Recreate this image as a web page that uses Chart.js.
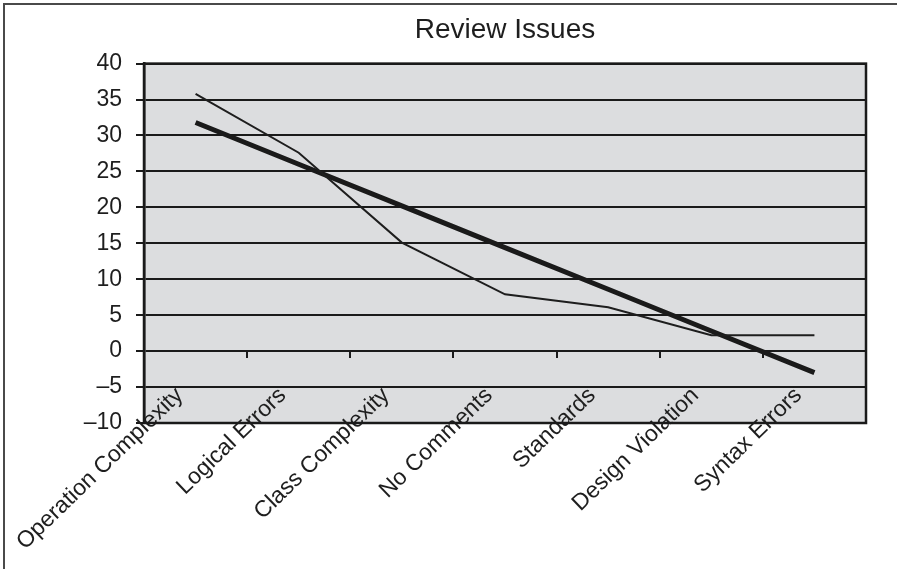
<!DOCTYPE html>
<html>
<head>
<meta charset="utf-8">
<script src="https://cdn.jsdelivr.net/npm/chart.js@4"></script>
<style>
  html, body { margin: 0; padding: 0; background: #fff; }
  #wrap { width: 897px; height: 569px; position: relative; }
</style>
</head>
<body>
<div id="wrap"><canvas id="reviewChart" width="897" height="569"></canvas></div>
<script>
const categories = ['Operation Complexity', 'Logical Errors', 'Class Complexity', 'No Comments', 'Standards', 'Design Violation', 'Syntax Errors'];
const issueCounts = [35.8, 27.6, 15.1, 7.9, 6.1, 2.2, 2.2];
const trendValues = [31.8, 26.0, 20.2, 14.4, 8.6, 2.8, -3.0];
const yTicks = [-10, -5, 0, 5, 10, 15, 20, 25, 30, 35, 40];

// grey plot background, plot frame and the outer picture frame
const framePlugin = {
  id: 'frame',
  beforeDraw(chart) {
    const { ctx, chartArea: a } = chart;
    ctx.save();
    ctx.fillStyle = '#fff';
    ctx.fillRect(0, 0, chart.width, chart.height);
    ctx.fillStyle = '#dcdddf';
    ctx.fillRect(a.left, a.top, a.right - a.left, a.bottom - a.top);
    ctx.strokeStyle = '#4a4a4a';
    ctx.lineWidth = 2;
    ctx.beginPath();
    ctx.moveTo(4, chart.height);
    ctx.lineTo(4, 4);
    ctx.lineTo(chart.width, 4);
    ctx.stroke();
    ctx.restore();
  },
  afterDraw(chart) {
    const { ctx, chartArea: a } = chart;
    ctx.save();
    ctx.strokeStyle = '#1a1a1a';
    ctx.lineWidth = 2.5;
    ctx.strokeRect(a.left, a.top, a.right - a.left, a.bottom - a.top);
    ctx.restore();
  }
};

new Chart(document.getElementById('reviewChart'), {
  type: 'line',
  data: {
    labels: categories,
    datasets: [
      {
        data: issueCounts,
        borderColor: '#1e1e1e',
        borderWidth: 2,
        pointRadius: 0,
        tension: 0,
        fill: false
      },
      {
        data: trendValues,
        borderColor: '#1a1a1a',
        borderWidth: 5,
        pointRadius: 0,
        tension: 0,
        fill: false
      }
    ]
  },
  options: {
    responsive: false,
    animation: false,
    layout: { padding: { left: 0, right: 31, top: 0, bottom: 146 } },
    plugins: {
      legend: { display: false },
      tooltip: { enabled: false },
      title: {
        display: true,
        text: 'Review Issues',
        fullSize: false,
        color: '#1e1e1e',
        font: { family: 'Liberation Sans, Arial, sans-serif', size: 28, weight: 'normal' },
        padding: { top: 13, bottom: 17 }
      }
    },
    scales: {
      x: {
        position: { y: 0 },
        offset: true,
        grid: {
          offset: true,
          drawOnChartArea: false,
          color: '#1a1a1a',
          lineWidth: 2,
          tickLength: 7
        },
        border: { display: false },
        ticks: {
          autoSkip: false,
          minRotation: 44,
          maxRotation: 44,
          padding: 24,
          labelOffset: -16,
          color: '#1e1e1e',
          font: { family: 'Liberation Sans, Arial, sans-serif', size: 23 }
        }
      },
      y: {
        min: -10,
        max: 40,
        afterFit(scale) { scale.width = 144; },
        afterBuildTicks(scale) { scale.ticks = yTicks.map(v => ({ value: v })); },
        grid: { color: '#1a1a1a', lineWidth: 2, tickLength: 8 },
        border: { display: true, color: '#1a1a1a', width: 2.5 },
        ticks: {
          padding: 14,
          color: '#1e1e1e',
          font: { family: 'Liberation Sans, Arial, sans-serif', size: 23 },
          callback: v => String(v).replace('-', '\u2013')
        }
      }
    }
  },
  plugins: [framePlugin]
});
</script>
</body>
</html>
